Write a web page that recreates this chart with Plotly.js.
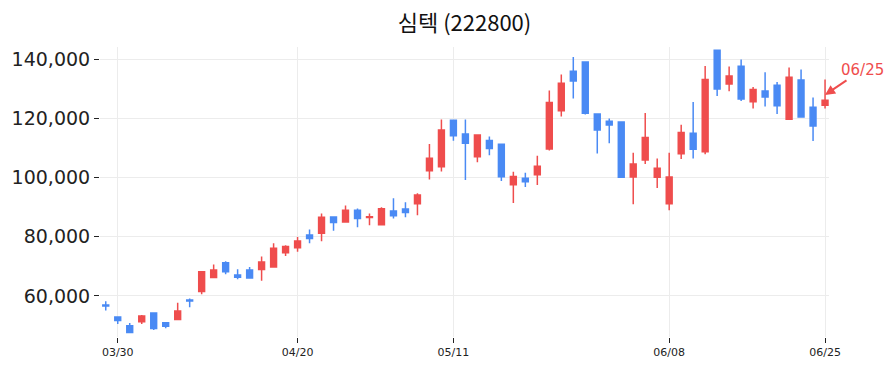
<!DOCTYPE html>
<html>
<head>
<meta charset="utf-8">
<script src="https://cdn.plot.ly/plotly-3.0.1.min.js"></script>
<style>html,body{margin:0;padding:0;background:#fff;}#chart{width:895px;height:373px;}</style>
</head>
<body>
<div id="chart"></div>
<script>
const dates = ["03/27","03/30","03/31","04/01","04/02","04/03","04/06","04/07","04/08","04/09","04/10",
"04/13","04/14","04/15","04/16","04/17","04/20","04/21","04/22","04/23","04/24",
"04/27","04/28","04/29","04/30","05/04","05/06","05/07","05/08",
"05/11","05/12","05/13","05/14","05/15","05/18","05/19","05/20","05/21","05/22",
"05/26","05/27","05/28","05/29","06/01","06/02","06/04","06/05",
"06/08","06/09","06/10","06/11","06/12","06/15","06/16","06/17","06/18","06/19",
"06/22","06/23","06/24","06/25"];
const openP = [56900,52900,49900,51300,54200,50900,52000,58600,61500,66200,71200,
67100,68800,68900,69800,74600,76300,80600,81200,86700,85000,
89000,86500,84100,88700,89400,91200,102300,103700,
119400,114800,107100,112600,111300,97600,99800,101000,109700,122600,
136000,139100,121500,119100,118800,100200,106000,100100,
91200,108100,115000,108800,143100,131700,137700,125700,129300,131300,
119800,133000,123800,124500];
const highP = [58200,53000,50800,53500,54400,51100,57700,59100,68300,70600,71700,
69000,69800,73300,77800,77100,79900,82500,87900,86900,90600,
89600,87900,90000,93000,91700,94700,111400,119700,
119500,119700,114400,113900,111500,102000,101700,107400,129500,134900,
140800,139200,121500,120000,118800,108400,121900,106500,
108400,117900,125600,137800,143300,137600,140000,130700,135700,132400,
137300,136600,127100,133200];
const lowP = [55100,50500,47400,50500,48500,49100,52000,56200,60600,66000,67300,
65600,66000,65100,69600,73500,74900,77800,78500,82000,85000,
83200,83900,84100,86200,86600,87300,99400,102100,
112500,99200,105200,107600,98900,91400,96800,97500,109200,120700,
126800,121400,108200,111600,100100,91000,104600,96500,
89000,106300,106500,107900,127600,129200,125900,123400,124100,121500,
119800,120500,112400,123400];
const closeP = [56600,51700,47600,53200,49000,49700,54900,58300,68200,68800,68200,
66300,66100,71500,76100,76700,78600,79400,86600,84800,89000,
86200,86800,89500,87100,88200,94100,106600,116100,
114200,111600,114400,109900,100300,100400,98600,103900,125400,131900,
132700,121800,116100,117800,100100,104600,113600,103200,
100200,115300,109600,133200,130000,134400,126600,129800,127300,124300,
134000,120500,117500,126200];
const tickDates = ["03/30","04/20","05/11","06/08","06/25"];
const yTicks = [60000,80000,100000,120000,140000];
const yTickText = ["60,000","80,000","100,000","120,000","140,000"];
const titleText = "심텍 (222800)";
const lastLabel = "06/25";

const red = "#EF4D4D", blue = "#4A8AF4";
const trace = {
  type: "candlestick",
  x: dates, open: openP, high: highP, low: lowP, close: closeP,
  increasing: {line: {color: red, width: 1.5}, fillcolor: red},
  decreasing: {line: {color: blue, width: 1.5}, fillcolor: blue},
  whiskerwidth: 0,
  hoverinfo: "skip"
};
const layout = {
  width: 895, height: 373,
  margin: {l: 100, r: 66, t: 47, b: 36},
  paper_bgcolor: "#fff", plot_bgcolor: "#fff",
  showlegend: false,
  font: {family: "DejaVu Sans, sans-serif", color: "#222"},
  title: {text: titleText, x: 0.5, xref: "paper", xanchor: "center", y: 1 - 23/373, yref: "container", yanchor: "middle",
          font: {family: "Noto Sans CJK KR, sans-serif", size: 22, color: "#111"}},
  xaxis: {type: "category", range: [-0.48, 60.33], rangeslider: {visible: false},
          tickmode: "array", tickvals: tickDates, ticktext: tickDates,
          ticks: "outside", ticklen: 5, tickcolor: "#222", tickfont: {size: 11, color: "#222"},
          showgrid: true, gridcolor: "#ececec", gridwidth: 1, showline: false, zeroline: false, fixedrange: true},
  yaxis: {range: [46100, 144200], tickmode: "array", tickvals: yTicks, ticktext: yTickText,
          ticks: "outside", ticklen: 5, tickcolor: "#222", tickfont: {size: 19, color: "#222"},
          showgrid: true, gridcolor: "#ececec", gridwidth: 1, showline: false, zeroline: false},
  annotations: [{
    x: lastLabel, y: 128000, xref: "x", yref: "y",
    text: lastLabel, showarrow: true, arrowhead: 2, arrowsize: 1, arrowwidth: 2,
    arrowcolor: red, ax: 37, ay: -25, font: {size: 15, color: red}
  }]
};
Plotly.newPlot("chart", [trace], layout, {displayModeBar: false, staticPlot: true});
</script>
</body>
</html>
